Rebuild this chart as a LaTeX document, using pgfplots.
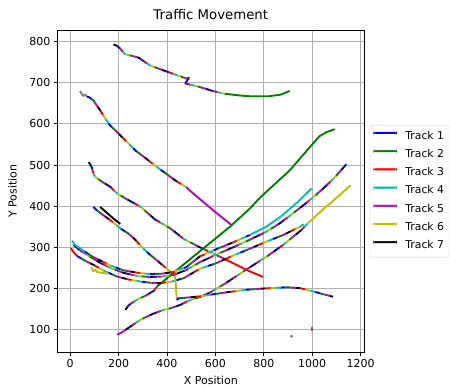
\documentclass[border=0pt]{standalone}
\usepackage{fontspec}
\setmainfont{DejaVu Sans}
\usepackage{pgfplots}
\usepackage{pgfplotstable}
\pgfplotsset{compat=1.18}
\definecolor{cB}{rgb}{0,0,1}
\definecolor{cG}{rgb}{0,0.5,0}
\definecolor{cR}{rgb}{1,0,0}
\definecolor{cC}{rgb}{0,0.75,0.75}
\definecolor{cM}{rgb}{0.75,0,0.75}
\definecolor{cY}{rgb}{0.75,0.75,0}
\definecolor{cK}{rgb}{0,0,0}
\definecolor{gridc}{HTML}{B0B0B0}
\definecolor{legc}{HTML}{CCCCCC}
% ---- track data ----
\pgfplotstableread{
x y
179 793
192 790
205 784
227 769
250 766
282 761
330 742
399 727
481 710
490 712
476 698
520 692
601 678
640 673
}\tTopM
\pgfplotstableread{
x y
640 673
700 669
742 667
820 667
870 671
907 680
}\tTopG
\pgfplotstableread{
x y
41 680
48 672
55 668
62 671
70 666
}\tBgray
\pgfplotstableread{
x y
70 666
80 664
96 657
110 645
124 633
145 613
165 596
187 584
242 552
270 535
304 520
359 495
433 463
480 446
}\tBM
\pgfplotstableread{
x y
480 446
508 431
599 386
667 354
}\tBmag
\pgfplotstableread{
x y
77 507
84 500
90 493
96 480
104 471
130 460
166 447
194 431
240 415
290 399
350 368
414 346
470 320
536 300
630 274
}\tCM
\pgfplotstableread{
x y
630 274
729 245
797 228
}\tCred
\pgfplotstableread{
x y
96 398
110 390
130 381
166 366
207 346
242 333
270 318
300 298
330 282
359 268
414 241
433 230
}\tDM
\pgfplotstableread{
x y
124 398
140 390
165 377
185 367
207 357
}\tShortK
\pgfplotstableread{
x y
228 148
240 158
250 163
276 173
310 182
345 194
359 205
}\tGM
\pgfplotstableread{
x y
359 205
441 245
560 302
660 350
742 394
783 420
907 487
1003 552
1030 570
1059 580
1093 587
}\tGgreen
\pgfplotstableread{
x y
3 298
15 288
29 279
}\tLred
\pgfplotstableread{
x y
29 279
60 268
98 257
140 243
194 229
240 222
290 217
330 214
372 213
420 217
469 225
536 248
606 262
673 280
740 296
811 314
880 330
948 350
965 356
}\tLM
\pgfplotstableread{
x y
15 306
35 295
60 285
125 262
170 249
221 238
280 230
331 228
380 229
427 233
480 245
536 264
606 283
673 300
740 318
811 338
870 360
928 386
980 410
1038 439
1090 468
1141 502
}\tUtwoM
\pgfplotstableread{
x y
8 316
20 306
40 298
60 290
}\tUoneC
\pgfplotstableread{
x y
60 290
90 278
125 268
170 255
221 244
280 238
331 235
380 236
427 240
480 252
536 278
606 296
673 312
742 330
}\tUoneM
\pgfplotstableread{
x y
742 330
810 350
873 376
940 410
997 443
}\tUoneCend
\pgfplotstableread{
x y
88 252
93 244
98 242
104 246
112 240
130 238
160 236
}\tHookY
\pgfplotstableread{
x y
194 88
210 92
230 100
}\tLRmag
\pgfplotstableread{
x y
230 100
260 112
290 124
340 138
386 148
420 153
454 160
496 172
540 180
577 190
640 212
715 241
770 262
818 280
880 306
955 342
985 360
}\tLRM
\pgfplotstableread{
x y
985 360
1050 395
1100 420
1159 451
}\tLRyel
\pgfplotstableread{
x y
432 232
436 215
438 195
441 172
}\tBAyel
\pgfplotstableread{
x y
441 172
447 176
469 177
500 179
536 181
591 186
650 191
729 197
800 200
894 203
948 201
1003 193
1040 187
1086 180
}\tBAM
% ---- styles ----
\pgfplotsset{
  trk/.style={forget plot, draw=#1, line width=1.9pt, line join=round, line cap=butt},
}
\newcommand{\multiA}[1]{%
  \addplot[trk=cK, dash pattern=on 4pt off 24pt, dash phase=0pt] table {#1};
  \addplot[trk=cB, dash pattern=on 4pt off 24pt, dash phase=24pt] table {#1};
  \addplot[trk=cR, dash pattern=on 4pt off 24pt, dash phase=20pt] table {#1};
  \addplot[trk=cC, dash pattern=on 4pt off 24pt, dash phase=16pt] table {#1};
  \addplot[trk=cY, dash pattern=on 4pt off 24pt, dash phase=12pt] table {#1};
  \addplot[trk=cG, dash pattern=on 4pt off 24pt, dash phase=8pt] table {#1};
  \addplot[trk=cM, dash pattern=on 4pt off 24pt, dash phase=4pt] table {#1};
}
\newcommand{\multiB}[1]{%
  \addplot[trk=cB, dash pattern=on 5pt off 30pt, dash phase=0pt] table {#1};
  \addplot[trk=cG, dash pattern=on 5pt off 30pt, dash phase=30pt] table {#1};
  \addplot[trk=cM, dash pattern=on 5pt off 30pt, dash phase=25pt] table {#1};
  \addplot[trk=cK, dash pattern=on 5pt off 30pt, dash phase=20pt] table {#1};
  \addplot[trk=cR, dash pattern=on 5pt off 30pt, dash phase=15pt] table {#1};
  \addplot[trk=cY, dash pattern=on 5pt off 30pt, dash phase=10pt] table {#1};
  \addplot[trk=cC, dash pattern=on 5pt off 30pt, dash phase=5pt] table {#1};
}
\begin{document}
\begin{tikzpicture}
\begin{axis}[
  name=ax,
  scale only axis, width=307pt, height=322.3pt,
  xmin=-53, xmax=1215, ymin=45, ymax=828,
  xtick={0,200,...,1200}, ytick={100,200,...,800},
  grid=major, grid style={color=gridc, line width=0.8pt},
  axis line style={line width=0.8pt},
  tick style={black, line width=0.8pt}, tick align=outside, major tick length=3.5pt,
  tick pos=left,
  /pgf/number format/assume math mode=true, /pgf/number format/1000 sep={},
  tick label style={font=\fontsize{11}{13}\selectfont},
  title={Traffic Movement},
  title style={font=\fontsize{13.3}{15}\selectfont, at={([yshift=4pt]rel axis cs:0.5,1)}, anchor=south, inner sep=0pt},
  xlabel={X Position}, ylabel={Y Position},
  xlabel style={font=\fontsize{11}{13}\selectfont, at={([yshift=-24pt]rel axis cs:0.5,0)}, anchor=north, inner sep=0pt},
  ylabel style={font=\fontsize{11}{13}\selectfont, at={([xshift=-40.3pt]rel axis cs:0,0.5)}, anchor=south, inner sep=0pt},
  legend style={at={(1.018,0.5)}, anchor=west, draw=legc, rounded corners=2pt, fill=white,
    font=\fontsize{10.8}{12}\selectfont, inner xsep=3.5pt, inner ysep=4.6pt, row sep=4.7pt,
    nodes={inner sep=1.5pt, text height=8pt, text depth=2.5pt},
    /tikz/every odd column/.append style={column sep=7pt}},
  legend cell align=left,
  legend image code/.code={\fill[#1] (0pt,2.75pt) rectangle (23pt,4.35pt);},
]
% Top arc
\multiA{\tTopM}
\addplot[trk=cG] table {\tTopG};
% B
\addplot[trk=gray] table {\tBgray};
\multiB{\tBM}
\addplot[trk=cM] table {\tBmag};
% C
\multiA{\tCM}
\addplot[trk=cR] table {\tCred};
% D and short black
\multiB{\tDM}
\addplot[trk=cK] table {\tShortK};
% Green track
\multiA{\tGM}
\addplot[trk=cG] table {\tGgreen};
% Lower band
\addplot[trk=cR] table {\tLred};
\multiB{\tLM}
% U2
\multiA{\tUtwoM}
% U1
\addplot[trk=cC] table {\tUoneC};
\multiB{\tUoneM}
\addplot[trk=cC] table {\tUoneCend};
% yellow hook
\addplot[trk=cY] table {\tHookY};
% Lower-right band
\addplot[trk=cM] table {\tLRmag};
\multiA{\tLRM}
\addplot[trk=cY] table {\tLRyel};
% Bottom arc
\addplot[trk=cY] table {\tBAyel};
\multiB{\tBAM}
% stray points
\addplot[forget plot, only marks, mark=*, mark size=1.3pt, color=gray] coordinates {(914,84)};
\addplot[trk=cM!50!gray] coordinates {(999,97) (999,106)};
% legend
\addlegendimage{color=cB}\addlegendentry{Track 1}
\addlegendimage{color=cG}\addlegendentry{Track 2}
\addlegendimage{color=cR}\addlegendentry{Track 3}
\addlegendimage{color=cC}\addlegendentry{Track 4}
\addlegendimage{color=cM}\addlegendentry{Track 5}
\addlegendimage{color=cY}\addlegendentry{Track 6}
\addlegendimage{color=cK}\addlegendentry{Track 7}
\end{axis}
\pgfresetboundingbox
\path ([shift={(-57.3pt,-37.7pt)}]ax.south west) rectangle ([shift={(85.7pt,30pt)}]ax.north east);
\end{tikzpicture}
\end{document}
